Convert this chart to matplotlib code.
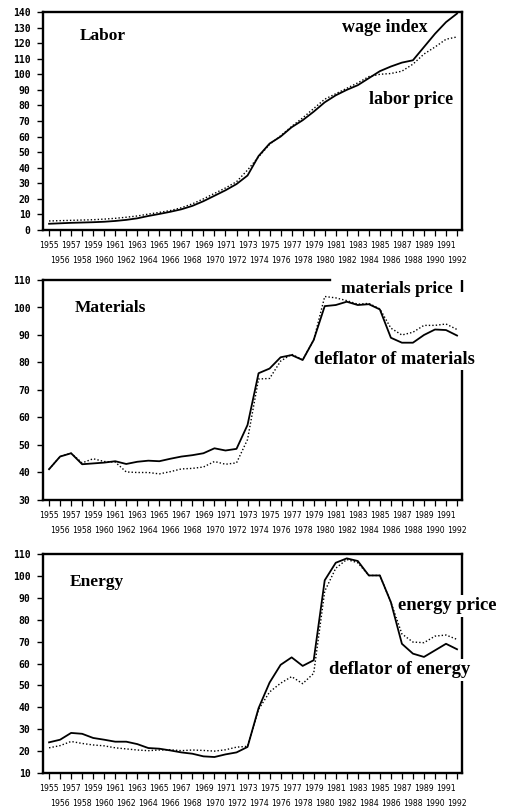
import matplotlib
matplotlib.use('Agg')
import matplotlib.pyplot as plt
from matplotlib import font_manager

years = list(range(1955, 1993))

wage_index = [4.0, 4.3, 4.6, 4.8, 5.0, 5.3, 5.8, 6.5, 7.5, 9.0, 10.3, 11.7, 13.3, 15.5,
              18.5, 22.0, 25.5, 29.5, 35.0, 47.5, 55.5, 60.0, 66.0, 70.5, 76.0, 82.0,
              86.5, 90.0, 93.0, 97.5, 102.0, 105.0, 107.5, 109.0, 117.5, 126.0, 133.5, 139.0]
labor_price = [5.8, 6.0, 6.2, 6.4, 6.6, 7.0, 7.5, 8.2, 9.0, 10.2, 11.3, 12.5, 14.3, 16.8,
               20.0, 23.5, 27.0, 31.0, 38.5, 47.0, 55.0, 60.5, 66.5, 72.0, 78.0, 84.0,
               87.5, 91.0, 94.5, 98.5, 100.0, 100.5, 102.0, 106.5, 113.0, 117.5, 122.5, 124.0]

mat_deflator = [41.2, 45.8, 47.0, 43.0, 43.3, 43.6, 44.1, 43.1, 43.9, 44.3, 44.1, 45.0, 45.8,
                46.3, 47.0, 48.8, 48.0, 48.6, 57.3, 76.1, 77.8, 81.9, 82.7, 80.9, 88.2, 100.5,
                100.9, 102.1, 100.9, 101.2, 99.3, 89.0, 87.2, 87.2, 90.0, 92.0, 91.8, 89.8]
mat_price = [41.2, 45.8, 47.0, 43.5, 45.0, 44.0, 43.8, 40.2, 40.0, 40.0, 39.5, 40.3, 41.3,
             41.5, 42.0, 44.0, 43.0, 43.5, 52.0, 74.0, 74.2, 80.5, 83.0, 81.0, 88.2, 104.0,
             103.5, 102.5, 101.2, 101.5, 99.5, 92.5, 90.0, 91.0, 93.5, 93.5, 94.0, 92.0]

energy_deflator = [24.0, 25.2, 28.3, 27.9, 26.0, 25.2, 24.3, 24.3, 23.2, 21.4, 21.1, 20.3, 19.4,
                   18.8, 17.6, 17.3, 18.5, 19.4, 21.9, 39.6, 51.3, 59.4, 62.8, 58.9, 61.5, 98.0,
                   106.0, 108.0, 106.8, 100.2, 100.2, 88.0, 69.0, 64.5, 63.0, 66.0, 69.0, 66.5]
energy_price = [21.5, 22.5, 24.4, 23.5, 22.8, 22.4, 21.5, 21.0, 20.5, 20.2, 20.5, 20.6, 20.2,
                20.5, 20.3, 20.0, 20.6, 21.8, 22.2, 39.0, 47.0, 51.0, 54.0, 50.8, 55.5, 93.0,
                103.5, 107.5, 106.0, 100.2, 100.2, 88.0, 73.5, 69.8, 69.5, 72.5, 73.0, 71.0]

labor_yticks = list(range(0, 141, 10))
mat_yticks = list(range(30, 111, 10))
energy_yticks = list(range(10, 111, 10))

W, H = 512, 807
fig = plt.figure(figsize=(W / 100, H / 100), dpi=100)
fig.patch.set_facecolor('white')

names = {f.name for f in font_manager.fontManager.ttflist}
if 'Liberation Sans Narrow' in names:
    xfont, xsize = 'Liberation Sans Narrow', 7.2
else:
    xfont, xsize = 'DejaVu Sans', 5.6
serif = 'Liberation Serif'

row1_years = years[0::2]
row2_years = years[1::2]


def make_axes(l, t, r, b):
    return fig.add_axes([l / W, 1 - b / H, (r - l) / W, (b - t) / H])


def style(ax, yticks, ylim):
    ax.set_xlim(1954.45, 1992.45)
    ax.set_ylim(*ylim)
    ax.set_yticks(yticks)
    ax.set_yticklabels([str(v) for v in yticks], family='DejaVu Sans Mono',
                       fontweight='bold', fontsize=7.0)
    ax.set_xticks(row1_years)
    ax.set_xticklabels([str(y) for y in row1_years], family=xfont, fontsize=xsize)
    ax.set_xticks(row2_years, minor=True)
    ax.set_xticklabels([str(y) for y in row2_years], minor=True, family=xfont, fontsize=xsize)
    ax.tick_params(axis='y', length=4, width=1.0, pad=5, direction='out')
    ax.tick_params(axis='x', which='major', length=4, width=0.9, pad=4, direction='out')
    ax.tick_params(axis='x', which='minor', length=4, width=0.9, pad=15, direction='out')
    for s in ax.spines.values():
        s.set_linewidth(1.7)
        s.set_color('black')


def fig_text(x, y, s, ha='left', size=12.5, box=False):
    kw = {}
    if box:
        kw['bbox'] = dict(facecolor='white', edgecolor='none', pad=1.5)
    fig.text(x / W, 1 - y / H, s, ha=ha, va='center', family=serif,
             fontweight='bold', fontsize=size, color='black', **kw)


# Labor
ax1 = make_axes(43, 12, 462, 230)
ax1.plot(years, wage_index, color='black', lw=1.3)
ax1.plot(years, labor_price, color='black', lw=1.0, ls=(0, (1, 1.5)))
style(ax1, labor_yticks, (0, 140))
fig_text(80, 36, 'Labor')
fig_text(428, 28, 'wage index', ha='right', size=13.0)
fig_text(453, 100, 'labor price', ha='right', size=13.0)

# Materials
ax2 = make_axes(43, 280, 462, 500)
ax2.plot(years, mat_deflator, color='black', lw=1.3)
ax2.plot(years, mat_price, color='black', lw=1.0, ls=(0, (1, 1.5)))
style(ax2, mat_yticks, (30, 110))
ax2.spines['top'].set_bounds(1954.45, 1980.5)
ax2.spines['right'].set_bounds(30, 81)
ax2.plot([1, 1], [0.945, 1.0], transform=ax2.transAxes, color='black', lw=1.7,
         clip_on=False, solid_capstyle='butt')
fig_text(75, 308, 'Materials')
fig_text(453, 289, 'materials price', ha='right')
fig_text(475, 359, 'deflator of materials', ha='right', size=13.2, box=True)

# Energy
ax3 = make_axes(43, 554, 462, 773)
ax3.plot(years, energy_deflator, color='black', lw=1.3)
ax3.plot(years, energy_price, color='black', lw=1.0, ls=(0, (1, 1.5)))
style(ax3, energy_yticks, (10, 110))
fig_text(70, 582, 'Energy')
fig_text(398, 606, 'energy price', size=13.4, box=True)
fig_text(470, 670, 'deflator of energy', ha='right', size=13.4, box=True)

fig.savefig('out.png', dpi=100, facecolor='white')
